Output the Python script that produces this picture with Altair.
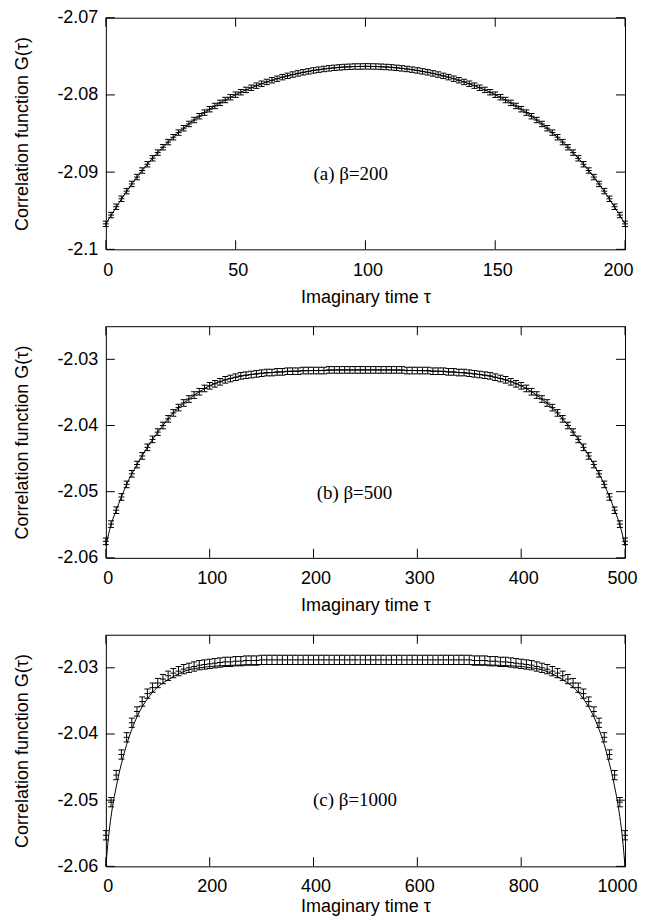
import altair as alt
import pandas as pd

XTITLE = "Imaginary time τ"
YTITLE = "Correlation function G(τ)"

# ---------------- panel (a) beta = 200 ----------------
TAU_A = list(range(0, 201, 2))
G_A = [-2.09670, -2.09556, -2.09448, -2.09345, -2.09246, -2.09153, -2.09064, -2.08979, -2.08898, -2.08821,
       -2.08747, -2.08678, -2.08611, -2.08548, -2.08488, -2.08431, -2.08376, -2.08325, -2.08276, -2.08229,
       -2.08185, -2.08143, -2.08103, -2.08066, -2.08030, -2.07997, -2.07965, -2.07935, -2.07907, -2.07880,
       -2.07855, -2.07832, -2.07810, -2.07790, -2.07770, -2.07753, -2.07736, -2.07721, -2.07707, -2.07695,
       -2.07683, -2.07673, -2.07664, -2.07656, -2.07649, -2.07643, -2.07638, -2.07635, -2.07632, -2.07631,
       -2.07630,
       -2.07631, -2.07632, -2.07635, -2.07638, -2.07643, -2.07649, -2.07656, -2.07664, -2.07673, -2.07683,
       -2.07695, -2.07707, -2.07721, -2.07736, -2.07753, -2.07770, -2.07790, -2.07810, -2.07832, -2.07855,
       -2.07880, -2.07907, -2.07935, -2.07965, -2.07997, -2.08030, -2.08066, -2.08103, -2.08143, -2.08185,
       -2.08229, -2.08276, -2.08325, -2.08376, -2.08431, -2.08488, -2.08548, -2.08611, -2.08678, -2.08747,
       -2.08821, -2.08898, -2.08979, -2.09064, -2.09153, -2.09246, -2.09345, -2.09448, -2.09556, -2.09670]
ERR_A = 0.00035
CT_A = [0, 10, 20, 30, 40, 50, 60, 70, 80, 90, 100, 110, 120, 130, 140, 150, 160, 170, 180, 190, 200]
CG_A = [-2.0967, -2.09153, -2.08747, -2.08431, -2.08185, -2.07997, -2.07855, -2.07753, -2.07683, -2.07643,
        -2.0763, -2.07643, -2.07683, -2.07753, -2.07855, -2.07997, -2.08185, -2.08431, -2.08747, -2.09153, -2.0967]
XT_A = [0, 50, 100, 150, 200]
YT_A = [-2.1, -2.09, -2.08, -2.07]

# ---------------- panel (b) beta = 500 ----------------
TAU_B = list(range(0, 501, 5))
G_B = [-2.0575, -2.0549, -2.0528, -2.0508, -2.0489, -2.0473, -2.0459, -2.0446, -2.0433, -2.0421,
       -2.0410, -2.0400, -2.0390, -2.0381, -2.0373, -2.0366, -2.0360, -2.0354, -2.0349, -2.0344,
       -2.0340, -2.0337, -2.0334, -2.0331, -2.0329, -2.0327, -2.0325, -2.0324, -2.0323, -2.0322,
       -2.0321, -2.0320, -2.0320, -2.0319, -2.0319, -2.0318, -2.0318, -2.0318, -2.0317, -2.0317,
       -2.0317, -2.0317, -2.0317, -2.0316, -2.0316, -2.0316, -2.0316, -2.0316, -2.0316, -2.0316,
       -2.0316,
       -2.0316, -2.0316, -2.0316, -2.0316, -2.0316, -2.0316, -2.0316, -2.0317, -2.0317, -2.0317,
       -2.0317, -2.0317, -2.0318, -2.0318, -2.0318, -2.0319, -2.0319, -2.0320, -2.0320, -2.0321,
       -2.0322, -2.0323, -2.0324, -2.0325, -2.0327, -2.0329, -2.0331, -2.0334, -2.0337, -2.0340,
       -2.0344, -2.0349, -2.0354, -2.0360, -2.0366, -2.0373, -2.0381, -2.0390, -2.0400, -2.0410,
       -2.0421, -2.0433, -2.0446, -2.0459, -2.0473, -2.0489, -2.0508, -2.0528, -2.0549, -2.0575]
ERR_B = 0.0005
CT_B = [0, 5, 10, 15, 20, 30, 40, 50, 60, 70, 80, 90, 100, 120, 140, 160, 180, 200, 250,
        300, 320, 340, 360, 380, 400, 410, 420, 430, 440, 450, 460, 470, 480, 485, 490, 495, 500]
CG_B = [-2.0582, -2.0550, -2.0528, -2.0508, -2.0489, -2.0459, -2.0433, -2.0410, -2.0390, -2.0373,
        -2.0360, -2.0349, -2.0340, -2.0329, -2.0323, -2.0320, -2.0318, -2.0317, -2.0316,
        -2.0317, -2.0318, -2.0320, -2.0323, -2.0329, -2.0340, -2.0349, -2.0360, -2.0373, -2.0390,
        -2.0410, -2.0433, -2.0459, -2.0489, -2.0508, -2.0528, -2.0550, -2.0582]
XT_B = [0, 100, 200, 300, 400, 500]
YT_B = [-2.06, -2.05, -2.04, -2.03]

# ---------------- panel (c) beta = 1000 ----------------
TAU_C = list(range(0, 1001, 10))
G_C = [-2.0553, -2.0503, -2.0462, -2.0431, -2.0405, -2.0383, -2.0366, -2.0351, -2.0339, -2.0330,
       -2.0323, -2.0317, -2.0312, -2.0308, -2.0305, -2.0302, -2.0300, -2.0298, -2.0296, -2.0295,
       -2.0294, -2.0293, -2.0292, -2.0291, -2.0291, -2.0290, -2.0290, -2.0289, -2.0289, -2.0289,
       -2.0288, -2.0288, -2.0288, -2.0288, -2.0288, -2.0288, -2.0288, -2.0288, -2.0288, -2.0288,
       -2.0288, -2.0288, -2.0288, -2.0288, -2.0288, -2.0288, -2.0288, -2.0288, -2.0288, -2.0288,
       -2.0288,
       -2.0288, -2.0288, -2.0288, -2.0288, -2.0288, -2.0288, -2.0288, -2.0288, -2.0288, -2.0288,
       -2.0288, -2.0288, -2.0288, -2.0288, -2.0288, -2.0288, -2.0288, -2.0288, -2.0288, -2.0288,
       -2.0289, -2.0289, -2.0289, -2.0290, -2.0290, -2.0291, -2.0291, -2.0292, -2.0293, -2.0294,
       -2.0295, -2.0296, -2.0298, -2.0300, -2.0302, -2.0305, -2.0308, -2.0312, -2.0317, -2.0323,
       -2.0330, -2.0339, -2.0351, -2.0366, -2.0383, -2.0405, -2.0431, -2.0462, -2.0503, -2.0553]
ERR_C = 0.0007
CT_C = [0, 5, 10, 15, 20, 25, 30, 40, 50, 60, 70, 80, 90, 100, 120, 140, 160, 180, 200, 250, 300, 400, 500,
        600, 700, 750, 800, 820, 840, 860, 880, 900, 910, 920, 930, 940, 950, 960, 970, 975, 980, 985, 990, 995, 1000]
CG_C = [-2.0600, -2.0557, -2.0525, -2.0500, -2.0480, -2.0461, -2.0445, -2.0416, -2.0393, -2.0374, -2.0359,
        -2.0347, -2.0337, -2.0329, -2.0318, -2.0309, -2.0303, -2.0300, -2.0298, -2.0296, -2.0295, -2.0295, -2.0295,
        -2.0295, -2.0295, -2.0296, -2.0298, -2.0300, -2.0303, -2.0309, -2.0318, -2.0329, -2.0337, -2.0347,
        -2.0359, -2.0374, -2.0393, -2.0416, -2.0445, -2.0461, -2.0480, -2.0500, -2.0525, -2.0557, -2.0600]
XT_C = [0, 200, 400, 600, 800, 1000]
YT_C = [-2.06, -2.05, -2.04, -2.03]

LABELS = ["(a) β=200", "(b) β=500", "(c) β=1000"]
LABEL_X = [80, 203, 399]
LABEL_Y = [-2.0902, -2.0502, -2.0500]

AX = dict(labelFont="Liberation Sans", labelFontSize=18, titleFont="Liberation Sans", titleFontSize=18,
          titleFontWeight="normal", labelColor="black", titleColor="black", domain=False, ticks=False,
          tickSize=0, grid=False, labelOverlap=False, labelFlush=False, labelExpr="'' + datum.value")
AXY = dict(AX, labelPadding=8, titlePadding=25)


def xaxis_style(last, last_shift, label_pad, title_pad):
    test = f"datum.value == {last}"
    return dict(AX, labelPadding=label_pad, titlePadding=title_pad,
                labelAlign={"condition": {"test": test, "value": "right"}, "value": "center"},
                labelOffset={"condition": {"test": test, "value": last_shift}, "value": 2})


W, H = 520, 232
BLACK = "black"


def make_panel(tau, g, err, ctau, cg, xdom, ydom, xticks, yticks, label, lx, ly, axx):
    xs = alt.Scale(domain=xdom, nice=False, zero=False)
    ys = alt.Scale(domain=ydom, nice=False, zero=False)
    xax = alt.Axis(values=xticks, title=XTITLE, **axx)
    yax = alt.Axis(values=yticks, title=YTITLE, **AXY)

    def X(f):
        return alt.X(f, type="quantitative", scale=xs, axis=xax)

    def Y(f):
        return alt.Y(f, type="quantitative", scale=ys, axis=yax)

    pts = alt.Chart(pd.DataFrame({"tau": tau, "g": g})).transform_calculate(
        lo=f"datum.g - {err}", hi=f"datum.g + {err}")
    rule = pts.mark_rule(color=BLACK, strokeWidth=1).encode(x=X("tau"), y=Y("lo"), y2=alt.Y2("hi"))
    tk = dict(orient="horizontal", size=6, thickness=1, color=BLACK, opacity=1)
    cap_lo = pts.mark_tick(**tk).encode(x=X("tau"), y=Y("lo"))
    cap_hi = pts.mark_tick(**tk).encode(x=X("tau"), y=Y("hi"))
    mid = pts.mark_tick(**tk).encode(x=X("tau"), y=Y("g"))

    curve = alt.Chart(pd.DataFrame({"tau": ctau, "g": cg})).mark_line(
        color=BLACK, strokeWidth=1, interpolate="monotone").encode(x=X("tau"), y=Y("g"))

    txt = alt.Chart(pd.DataFrame({"tau": [lx], "g": [ly], "t": [label]})).mark_text(
        align="left", baseline="middle", font="Liberation Serif", fontSize=19, color=BLACK
    ).encode(x=X("tau"), y=Y("g"), text="t:N")

    fx = alt.Chart(pd.DataFrame({"v": xticks}))
    fy = alt.Chart(pd.DataFrame({"v": yticks}))
    ftk_v = dict(orient="vertical", size=9, thickness=1, color=BLACK, opacity=1)
    ftk_h = dict(orient="horizontal", size=9, thickness=1, color=BLACK, opacity=1)
    bot = fx.mark_tick(yOffset=-4.5, **ftk_v).encode(
        x=X("v"), y=alt.YDatum(ydom[0], type="quantitative", scale=ys, axis=yax))
    top = fx.mark_tick(yOffset=4.5, **ftk_v).encode(
        x=X("v"), y=alt.YDatum(ydom[1], type="quantitative", scale=ys, axis=yax))
    left = fy.mark_tick(xOffset=4.5, **ftk_h).encode(
        y=Y("v"), x=alt.XDatum(xdom[0], type="quantitative", scale=xs, axis=xax))
    right = fy.mark_tick(xOffset=-4.5, **ftk_h).encode(
        y=Y("v"), x=alt.XDatum(xdom[1], type="quantitative", scale=xs, axis=xax))

    return alt.layer(rule, cap_lo, cap_hi, mid, curve, txt, bot, top, left, right).properties(width=W, height=H)


pa = make_panel(TAU_A, G_A, ERR_A, CT_A, CG_A, [0, 200], [-2.1, -2.07], XT_A, YT_A,
                LABELS[0], LABEL_X[0], LABEL_Y[0], xaxis_style(200, 8, 12, 9))
pb = make_panel(TAU_B, G_B, ERR_B, CT_B, CG_B, [0, 500], [-2.06, -2.025], XT_B, YT_B,
                LABELS[1], LABEL_X[1], LABEL_Y[1], xaxis_style(500, 12, 12, 9))
pc = make_panel(TAU_C, G_C, ERR_C, CT_C, CG_C, [0, 1000], [-2.06, -2.025], XT_C, YT_C,
                LABELS[2], LABEL_X[2], LABEL_Y[2], xaxis_style(1000, 12, 11, 2))

chart = alt.vconcat(pa, pb, pc, spacing=18).configure_view(
    stroke="black", strokeWidth=1
).properties(padding={"left": 5, "top": -1, "right": 0, "bottom": 0}, background="white")

chart.save("out.html", embed_options={"renderer": "svg", "actions": False})
